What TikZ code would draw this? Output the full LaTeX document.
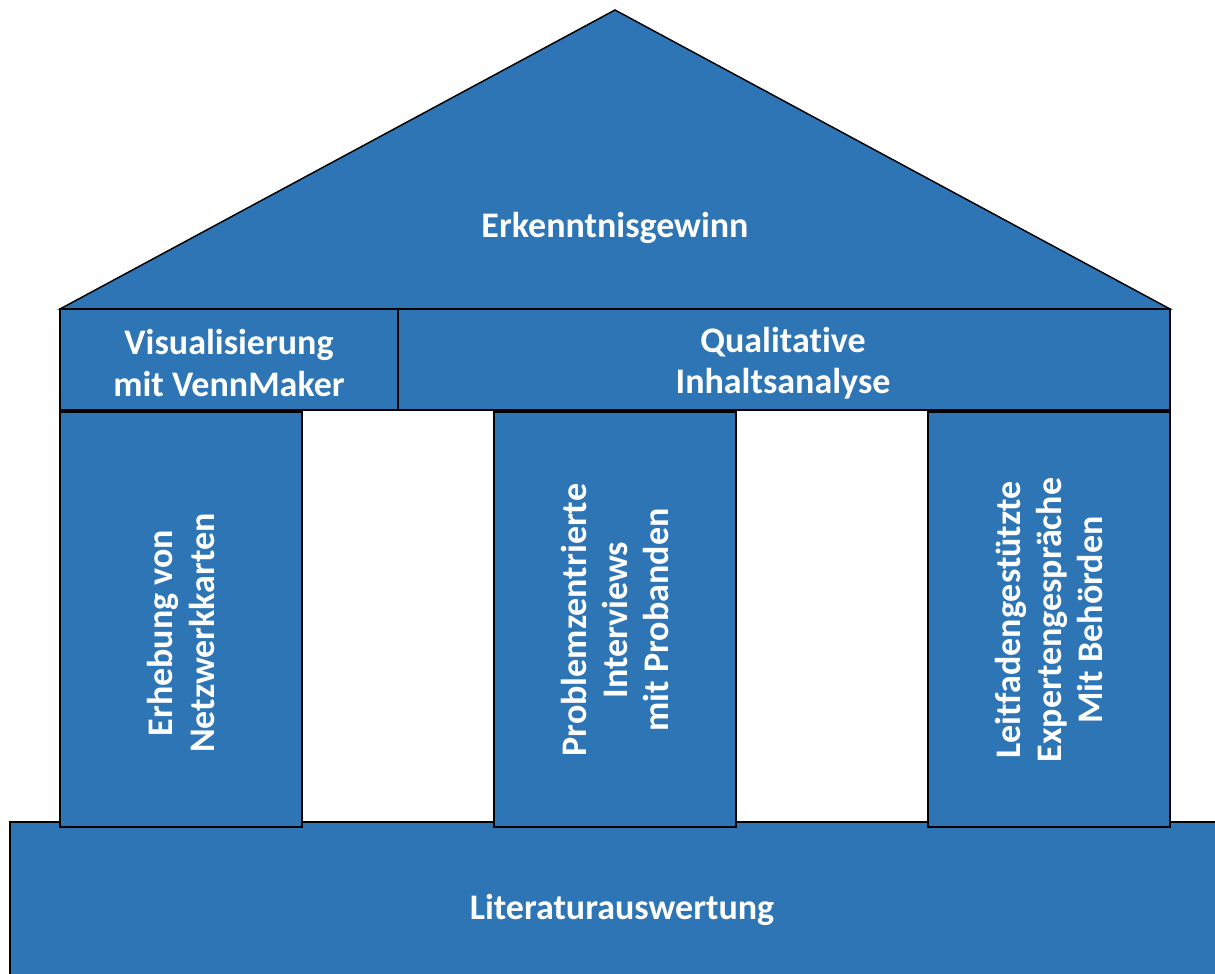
\documentclass[tikz,border=0pt]{standalone}
\usepackage{fontspec}
\setmainfont{Carlito}[Ligatures=NoCommon]
\usepackage{tikz}

\definecolor{hausblau}{HTML}{2E75B6}

\begin{document}
\begin{tikzpicture}[
  x=0.75pt, y=-0.75pt,
  part/.style={fill=hausblau, draw=black, line width=1.4pt},
  label/.style={text=white, align=center, font=\fontsize{27}{31}\selectfont\bfseries},
  uplabel/.style={label, rotate=90}
]
  \useasboundingbox (0,0) rectangle (1215,974);

  % Fundament
  \draw[part] (10,822) rectangle (1230,990);
  \node[label] (basis) at (622,910) {Literaturauswertung};

  % Dach
  \coordinate (first) at (615,10);
  \coordinate (traufeL) at (60,309);
  \coordinate (traufeR) at (1170,309);
  \draw[part, line width=1.1pt] (traufeL) -- (first) -- (traufeR) -- cycle;
  \node[label] (dach) at (615,228) {Erkenntnisgewinn};

  % Querbalken
  \draw[part] (60,309) rectangle (398,410);
  \draw[part] (398,309) rectangle (1170,410);
  \node[label] (visual) at (229,363) {Visualisierung\\mit VennMaker};
  \node[label] (inhalt) at (783,363) {Qualitative\\Inhaltsanalyse};

  % Saeulen
  \draw[part] (60,412) rectangle (302,827);
  \draw[part] (494,412) rectangle (736,827);
  \draw[part] (928,412) rectangle (1170,827);
  \node[uplabel] (netz) at (181,633) {Erhebung von\\Netzwerkkarten};
  \node[uplabel] (interv) at (615,620) {Problemzentrierte\\Interviews\\mit Probanden};
  \node[uplabel] (experten) at (1049,620) {Leitfadengestützte\\Expertengespräche\\Mit Behörden};
\end{tikzpicture}
\end{document}
